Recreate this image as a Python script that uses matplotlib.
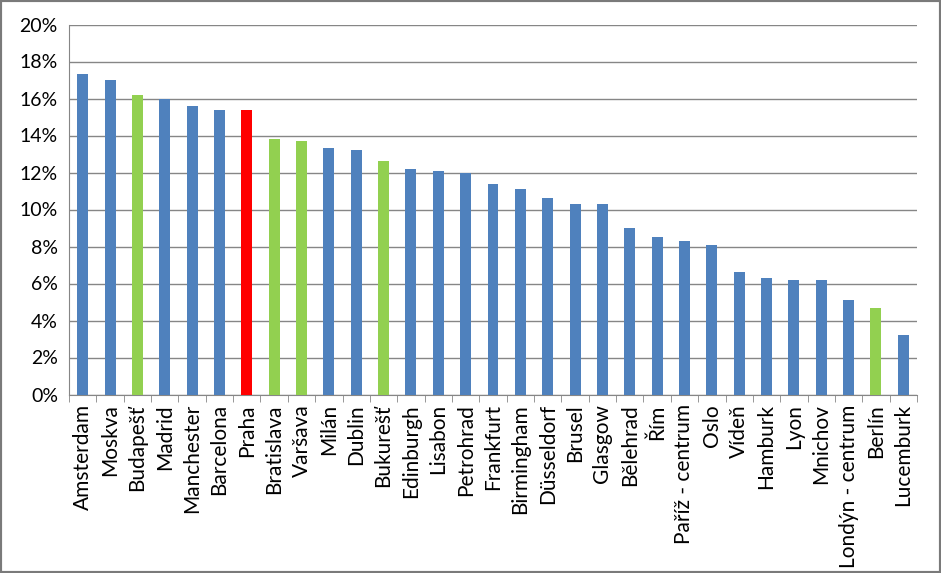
import matplotlib
matplotlib.use("Agg")
import matplotlib.pyplot as plt
from matplotlib.ticker import FuncFormatter, FixedLocator
from matplotlib.patches import Rectangle

cities = ["Amsterdam", "Moskva", "Budapešť", "Madrid", "Manchester", "Barcelona", "Praha",
          "Bratislava", "Varšava", "Milán", "Dublin", "Bukurešť", "Edinburgh", "Lisabon",
          "Petrohrad", "Frankfurt", "Birmingham", "Düsseldorf", "Brusel", "Glasgow",
          "Bělehrad", "Řím", "Paříž - centrum", "Oslo", "Vídeň", "Hamburk", "Lyon",
          "Mnichov", "Londýn - centrum", "Berlín", "Lucemburk"]
values = [17.3, 17.0, 16.2, 16.0, 15.6, 15.4, 15.4, 13.8, 13.7, 13.3, 13.2, 12.6, 12.2, 12.1,
          12.0, 11.4, 11.1, 10.6, 10.3, 10.3, 9.0, 8.5, 8.3, 8.1, 6.6, 6.3, 6.2, 6.2, 5.1, 4.7, 3.2]
groups = ["o", "o", "g", "o", "o", "o", "p", "g", "g", "o", "o", "g", "o", "o", "o", "o", "o",
          "o", "o", "o", "o", "o", "o", "o", "o", "o", "o", "o", "o", "g", "o"]
palette = {"o": "#4F81BD", "g": "#92D050", "p": "#FF0000"}
y_ticks = [0, 2, 4, 6, 8, 10, 12, 14, 16, 18, 20]

plt.rcParams["font.family"] = ["Lato", "DejaVu Sans"]
fig = plt.figure(figsize=(9.41, 5.73), dpi=100)
ax = fig.add_axes([69/941, 1-394.5/573, (917-69)/941, (394.5-24.5)/573])

x = list(range(len(cities)))
ax.bar(x, [v/100 for v in values], width=0.4, color=[palette[g] for g in groups], zorder=3)

ax.set_xlim(-0.5, len(cities)-0.5)
ax.set_ylim(0, 0.20)
ax.set_yticks([t/100 for t in y_ticks])
ax.yaxis.set_major_formatter(FuncFormatter(lambda v, p: f"{v*100:.0f}%"))
ax.grid(axis="y", color="#868686", linewidth=1, zorder=0)
for s in ["top", "right"]:
    ax.spines[s].set_visible(False)
ax.spines["left"].set_color("#868686")
ax.spines["bottom"].set_color("#868686")
ax.tick_params(axis="y", length=0, pad=8, labelsize=14)
ax.set_xticks(x)
ax.set_xticklabels(cities, rotation=90, fontsize=15)
ax.tick_params(axis="x", which="major", length=0, pad=7)
ax.xaxis.set_minor_locator(FixedLocator([i + 0.5 for i in range(-1, len(cities))]))
ax.tick_params(axis="x", which="minor", length=5, color="#868686", direction="out")

fig.patches.append(Rectangle((0, 0), 1, 1, transform=fig.transFigure, fill=False,
                             edgecolor="#7a7a7a", linewidth=3))
fig.savefig("out.png", dpi=100)
